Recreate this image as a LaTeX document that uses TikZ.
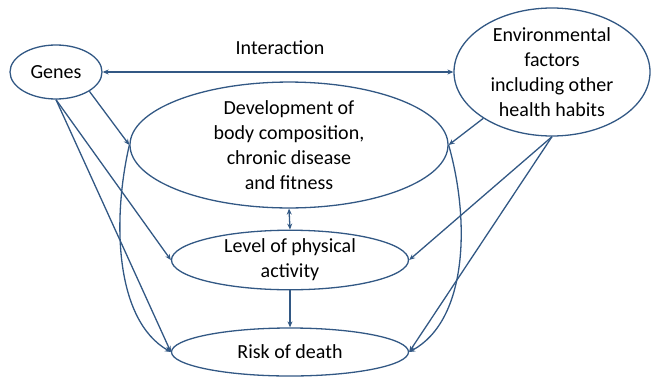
\documentclass[tikz,border=0pt]{standalone}
\usepackage{fontspec}
\setmainfont{Carlito}
\usetikzlibrary{shapes.geometric,arrows.meta}
\definecolor{lineblue}{RGB}{50,88,132}
\tikzset{
  oval/.style={ellipse,draw=lineblue,line width=1.3pt,inner sep=0pt,align=center,
    font=\fontsize{20}{25}\selectfont},
  conn/.style={draw=lineblue,line width=1.3pt,-{Stealth[length=6pt,width=5pt]}},
  biconn/.style={draw=lineblue,line width=1.3pt,{Stealth[length=6pt,width=5pt]}-{Stealth[length=6pt,width=5pt]}},
  lbl/.style={font=\fontsize{20}{25}\selectfont}
}
\begin{document}
\begin{tikzpicture}[x=1pt,y=-1pt]
\useasboundingbox (0,0) rectangle (653,378);
\node[oval,minimum width=92pt,minimum height=54pt] (genes) at (56,72) {Genes};
\node[oval,minimum width=196pt,minimum height=128pt] (env) at (552,72) {Environmental\\factors\\including other\\health habits};
\node[oval,minimum width=318pt,minimum height=114pt] (dev) at (289,145) {Development of\\body composition,\\chronic disease\\and fitness};
\node[oval,minimum width=237pt,minimum height=55pt] (level) at (290,260) {Level of physical\\activity};
\node[oval,minimum width=237pt,minimum height=48pt] (risk) at (290,352) {Risk of death};
\node[lbl] (inter) at (280,48) {Interaction};
\draw[biconn] (genes.east) -- (env.west);
\draw[conn] (genes.-30) -- (dev.west);
\draw[conn] (genes.south) -- (level.west);
\draw[conn] (genes.south) -- (risk.west);
\draw[conn] (env.214) -- (dev.east);
\draw[conn] (env.south) -- (level.east);
\draw[conn] (env.south) -- (risk.east);
\draw[biconn] (dev.south) -- (level.north);
\draw[conn] (level.south) -- (risk.north);
\draw[conn] (dev.west) .. controls (112,220) and (115,320) .. (risk.west);
\draw[conn] (dev.east) .. controls (470,220) and (468,320) .. (risk.east);
\end{tikzpicture}
\end{document}
